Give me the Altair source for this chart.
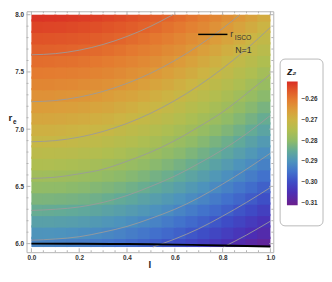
import altair as alt
import pandas as pd

# ---------------- data ----------------
l_centers = [0.025, 0.075, 0.125, 0.175, 0.225, 0.275, 0.325, 0.375, 0.425, 0.475,
             0.525, 0.575, 0.625, 0.675, 0.725, 0.775, 0.825, 0.875, 0.925, 0.975]
r_rows = [6.0, 6.1, 6.2, 6.3, 6.4, 6.5, 6.6, 6.7, 6.8, 6.9, 7.0,
          7.1, 7.2, 7.3, 7.4, 7.5, 7.6, 7.7, 7.8, 7.9, 8.0]

z_600 = [-0.2923, -0.2924, -0.2927, -0.2930, -0.2934, -0.2940, -0.2946, -0.2953, -0.2960, -0.2969, -0.2978, -0.2989, -0.3000, -0.3012, -0.3024, -0.3036, -0.3049, -0.3063, -0.3076, -0.3090]
z_610 = [-0.2897, -0.2898, -0.2900, -0.2903, -0.2907, -0.2912, -0.2918, -0.2925, -0.2934, -0.2943, -0.2952, -0.2962, -0.2973, -0.2985, -0.2998, -0.3011, -0.3025, -0.3038, -0.3052, -0.3066]
z_620 = [-0.2871, -0.2872, -0.2874, -0.2877, -0.2881, -0.2887, -0.2893, -0.2899, -0.2907, -0.2916, -0.2925, -0.2937, -0.2948, -0.2960, -0.2972, -0.2985, -0.3000, -0.3014, -0.3029, -0.3043]
z_630 = [-0.2845, -0.2846, -0.2848, -0.2851, -0.2855, -0.2860, -0.2867, -0.2874, -0.2882, -0.2891, -0.2901, -0.2911, -0.2922, -0.2935, -0.2948, -0.2961, -0.2974, -0.2989, -0.3004, -0.3020]
z_640 = [-0.2820, -0.2821, -0.2823, -0.2826, -0.2830, -0.2835, -0.2842, -0.2849, -0.2857, -0.2867, -0.2877, -0.2887, -0.2898, -0.2910, -0.2922, -0.2937, -0.2951, -0.2965, -0.2980, -0.2996]
z_650 = [-0.2796, -0.2797, -0.2799, -0.2803, -0.2807, -0.2812, -0.2818, -0.2825, -0.2833, -0.2842, -0.2852, -0.2862, -0.2874, -0.2887, -0.2899, -0.2913, -0.2927, -0.2942, -0.2957, -0.2972]
z_660 = [-0.2773, -0.2774, -0.2776, -0.2779, -0.2783, -0.2788, -0.2795, -0.2802, -0.2810, -0.2819, -0.2829, -0.2839, -0.2851, -0.2863, -0.2876, -0.2890, -0.2904, -0.2918, -0.2934, -0.2950]
z_670 = [-0.2751, -0.2752, -0.2754, -0.2757, -0.2761, -0.2766, -0.2772, -0.2779, -0.2787, -0.2796, -0.2806, -0.2817, -0.2828, -0.2840, -0.2853, -0.2868, -0.2882, -0.2897, -0.2911, -0.2927]
z_680 = [-0.2730, -0.2731, -0.2733, -0.2736, -0.2740, -0.2745, -0.2751, -0.2758, -0.2766, -0.2774, -0.2784, -0.2795, -0.2806, -0.2819, -0.2831, -0.2845, -0.2859, -0.2875, -0.2890, -0.2906]
z_690 = [-0.2709, -0.2710, -0.2712, -0.2715, -0.2720, -0.2725, -0.2731, -0.2738, -0.2745, -0.2754, -0.2763, -0.2774, -0.2785, -0.2797, -0.2810, -0.2824, -0.2838, -0.2853, -0.2869, -0.2885]
z_700 = [-0.2690, -0.2691, -0.2693, -0.2696, -0.2700, -0.2704, -0.2710, -0.2718, -0.2726, -0.2734, -0.2744, -0.2754, -0.2765, -0.2776, -0.2789, -0.2803, -0.2817, -0.2832, -0.2848, -0.2864]
z_710 = [-0.2670, -0.2671, -0.2673, -0.2676, -0.2680, -0.2685, -0.2691, -0.2698, -0.2705, -0.2714, -0.2724, -0.2734, -0.2745, -0.2757, -0.2769, -0.2782, -0.2797, -0.2812, -0.2828, -0.2844]
z_720 = [-0.2651, -0.2652, -0.2654, -0.2657, -0.2661, -0.2665, -0.2671, -0.2678, -0.2686, -0.2695, -0.2704, -0.2715, -0.2726, -0.2738, -0.2750, -0.2763, -0.2776, -0.2792, -0.2808, -0.2824]
z_730 = [-0.2633, -0.2634, -0.2636, -0.2638, -0.2641, -0.2646, -0.2652, -0.2659, -0.2666, -0.2675, -0.2685, -0.2696, -0.2707, -0.2720, -0.2732, -0.2745, -0.2759, -0.2773, -0.2788, -0.2804]
z_740 = [-0.2616, -0.2617, -0.2619, -0.2621, -0.2625, -0.2629, -0.2634, -0.2640, -0.2647, -0.2656, -0.2665, -0.2676, -0.2688, -0.2700, -0.2714, -0.2727, -0.2741, -0.2755, -0.2770, -0.2786]
z_750 = [-0.2600, -0.2601, -0.2603, -0.2605, -0.2608, -0.2612, -0.2617, -0.2623, -0.2630, -0.2637, -0.2646, -0.2657, -0.2668, -0.2681, -0.2695, -0.2709, -0.2723, -0.2738, -0.2752, -0.2768]
z_760 = [-0.2583, -0.2584, -0.2586, -0.2588, -0.2592, -0.2596, -0.2601, -0.2607, -0.2613, -0.2621, -0.2629, -0.2638, -0.2649, -0.2662, -0.2676, -0.2690, -0.2705, -0.2720, -0.2735, -0.2751]
z_770 = [-0.2567, -0.2568, -0.2570, -0.2572, -0.2575, -0.2579, -0.2584, -0.2590, -0.2597, -0.2604, -0.2612, -0.2622, -0.2631, -0.2642, -0.2656, -0.2670, -0.2686, -0.2702, -0.2719, -0.2734]
z_780 = [-0.2551, -0.2552, -0.2554, -0.2556, -0.2559, -0.2563, -0.2568, -0.2573, -0.2580, -0.2588, -0.2596, -0.2605, -0.2615, -0.2626, -0.2637, -0.2651, -0.2666, -0.2683, -0.2700, -0.2718]
z_790 = [-0.2536, -0.2537, -0.2538, -0.2541, -0.2544, -0.2547, -0.2552, -0.2557, -0.2564, -0.2571, -0.2579, -0.2589, -0.2598, -0.2609, -0.2620, -0.2633, -0.2647, -0.2664, -0.2681, -0.2699]
z_800 = [-0.2520, -0.2521, -0.2522, -0.2525, -0.2528, -0.2532, -0.2537, -0.2542, -0.2548, -0.2555, -0.2563, -0.2572, -0.2582, -0.2593, -0.2604, -0.2616, -0.2630, -0.2644, -0.2661, -0.2680]
z_rows = [z_600, z_610, z_620, z_630, z_640, z_650, z_660, z_670, z_680, z_690, z_700,
          z_710, z_720, z_730, z_740, z_750, z_760, z_770, z_780, z_790, z_800]

# contour lines (grey)
c1_l = [0.0, 0.1, 0.2, 0.3, 0.4, 0.5, 0.592]
c1_r = [7.65, 7.66, 7.69, 7.74, 7.81, 7.90, 8.0]
c2_l = [0.0, 0.1, 0.2, 0.3, 0.4, 0.5, 0.6, 0.7, 0.8, 0.872]
c2_r = [7.24, 7.25, 7.28, 7.33, 7.40, 7.49, 7.60, 7.73, 7.88, 8.0]
c_full_l = [0.0, 0.1, 0.2, 0.3, 0.4, 0.5, 0.6, 0.7, 0.8, 0.9, 1.0]
c3_r = [6.89, 6.90, 6.93, 6.98, 7.05, 7.14, 7.25, 7.38, 7.53, 7.70, 7.89]
c4_r = [6.57, 6.58, 6.61, 6.65, 6.72, 6.80, 6.90, 7.02, 7.15, 7.31, 7.48]
c5_r = [6.29, 6.30, 6.32, 6.36, 6.42, 6.50, 6.59, 6.70, 6.82, 6.96, 7.12]
c6_r = [6.03, 6.04, 6.06, 6.10, 6.15, 6.22, 6.30, 6.40, 6.52, 6.65, 6.79]
c7_l = [0.508, 0.6, 0.7, 0.8, 0.9, 1.0]
c7_r = [5.97, 6.04, 6.13, 6.24, 6.36, 6.49]
c8_l = [0.803, 0.9, 1.0]
c8_r = [5.97, 6.075, 6.196]

# r_ISCO curve (black)
isco_l = [0.0, 0.2, 0.4, 0.6, 0.8, 1.0]
isco_r = [6.0, 5.999, 5.996, 5.991, 5.984, 5.975]

# ticks
l_major = [0.0, 0.2, 0.4, 0.6, 0.8, 1.0]
l_minor = [0.05, 0.1, 0.15, 0.25, 0.3, 0.35, 0.45, 0.5, 0.55, 0.65, 0.7, 0.75, 0.85, 0.9, 0.95]
r_major = [6.0, 6.5, 7.0, 7.5, 8.0]
r_minor = [6.1, 6.2, 6.3, 6.4, 6.6, 6.7, 6.8, 6.9, 7.1, 7.2, 7.3, 7.4, 7.6, 7.7, 7.8, 7.9]
z_ticks = [-0.31, -0.30, -0.29, -0.28, -0.27, -0.26]

# colour ramp (Mathematica "Rainbow"-like)
c_dom = [-0.3113, -0.305, -0.300, -0.295, -0.290, -0.285, -0.280, -0.275, -0.270, -0.265, -0.260, -0.255, -0.2513]
c_rng = ["#6c1f8c", "#4b2fb5", "#3e4cc6", "#4272cc", "#4d93bd", "#62aa98", "#8fbb68",
         "#b0be50", "#cbb544", "#dc9c3a", "#e47b30", "#e05228", "#d92d24"]

# ---------------- frames ----------------
heat_rows = []
for r, zs in zip(r_rows, z_rows):
    for l, z in zip(l_centers, zs):
        heat_rows.append({"l0": max(l - 0.03, 0.0), "l1": min(l + 0.03, 1.0),
                          "r0": max(r - 0.06, 5.97), "r1": min(r + 0.06, 8.0), "z": z})
heat_df = pd.DataFrame(heat_rows)

cont = []
for name, ls, rs in [("c1", c1_l, c1_r), ("c2", c2_l, c2_r), ("c3", c_full_l, c3_r),
                     ("c4", c_full_l, c4_r), ("c5", c_full_l, c5_r), ("c6", c_full_l, c6_r),
                     ("c7", c7_l, c7_r), ("c8", c8_l, c8_r)]:
    for l, r in zip(ls, rs):
        cont.append({"c": name, "l": l, "r": r})
cont_df = pd.DataFrame(cont)
isco_df = pd.DataFrame({"l": isco_l, "r": isco_r})

W, H = 253, 247
GREY = "#b2b2b2"
FONT = "Liberation Sans"
xs = alt.Scale(domain=[-0.0204, 1.012], nice=False, zero=False)
ys = alt.Scale(domain=[5.925, 8.03], nice=False, zero=False)

x_axis = alt.Axis(values=l_major, format=".1f", title=None, ticks=False, domain=False, grid=False,
                  labelPadding=3, labelFontSize=6.5, labelFontWeight="bold", labelColor="#333",
                  labelFont=FONT, labelFlush=False, labelOverlap=False)
y_axis = alt.Axis(values=r_major, format=".1f", title=None, ticks=False, domain=False, grid=False,
                  labelPadding=3, labelFontSize=6.5, labelFontWeight="bold", labelColor="#333",
                  labelFont=FONT, labelFlush=False, labelOverlap=False)

legend = alt.Legend(orient="none", legendX=267, legendY=56, direction="vertical",
                    title="z₂", titleFontSize=11, titleFontStyle="italic", titleFontWeight="bold",
                    titleColor="#222", titleFont=FONT, titlePadding=5,
                    gradientLength=127, gradientThickness=11, gradientStrokeWidth=0,
                    values=z_ticks, format=".2f", labelFontSize=6.5, labelFontWeight="bold",
                    labelColor="#333", labelOffset=4, labelFont=FONT, padding=0)

one = pd.DataFrame({"a": [0]})

box = alt.Chart(one).mark_rect(cornerRadius=5, fill="white", stroke="#b8b8b8", strokeWidth=1).encode(
    x=alt.value(260), x2=alt.value(304), y=alt.value(49), y2=alt.value(220))

heat = alt.Chart(heat_df).mark_rect(strokeWidth=0, opacity=1).encode(
    x=alt.X("l0:Q", scale=xs, axis=x_axis),
    x2="l1:Q",
    y=alt.Y("r0:Q", scale=ys, axis=y_axis),
    y2="r1:Q",
    color=alt.Color("z:Q", scale=alt.Scale(domain=c_dom, range=c_rng, interpolate="rgb"), legend=legend),
)

contours = alt.Chart(cont_df).mark_line(color="#9a9a9a", strokeWidth=1, opacity=0.9,
                                         interpolate="monotone", clip=True).encode(
    x=alt.X("l:Q", scale=xs, axis=x_axis), y=alt.Y("r:Q", scale=ys, axis=y_axis), detail="c:N")

isco = alt.Chart(isco_df).mark_line(color="black", strokeWidth=2, interpolate="monotone").encode(
    x=alt.X("l:Q", scale=xs, axis=x_axis), y=alt.Y("r:Q", scale=ys, axis=y_axis))

xmaj = pd.DataFrame({"v": l_major})
xmin = pd.DataFrame({"v": l_minor})
ymaj = pd.DataFrame({"v": r_major})
ymin = pd.DataFrame({"v": r_minor})

def xt(df, y0, y1):
    return alt.Chart(df).mark_rule(color=GREY, strokeWidth=1).encode(
        x=alt.X("v:Q", scale=xs, axis=x_axis), y=alt.value(y0), y2=alt.value(y1))

def yt(df, x0, x1):
    return alt.Chart(df).mark_rule(color=GREY, strokeWidth=1).encode(
        y=alt.Y("v:Q", scale=ys, axis=y_axis), x=alt.value(x0), x2=alt.value(x1))

ticks = [xt(xmaj, H, H - 4), xt(xmin, H, H - 2), xt(xmaj, 0, 4), xt(xmin, 0, 2),
         yt(ymaj, 0, 4), yt(ymin, 0, 2), yt(ymaj, W, W - 4), yt(ymin, W, W - 2)]

def txt(s, x, y, size, weight="normal", color="#333", style="normal"):
    return alt.Chart(one).mark_text(text=s, font=FONT, fontSize=size, fontWeight=weight, fontStyle=style,
                                    color=color, align="left", baseline="alphabetic").encode(
        x=alt.value(x), y=alt.value(y))

key_line = alt.Chart(one).mark_rule(color="black", strokeWidth=1.5).encode(
    x=alt.value(176), x2=alt.value(206), y=alt.value(23.7))

labels = [
    key_line,
    txt("r", 209, 26.5, 9),
    txt("ISCO", 213.5, 29, 7),
    txt("N=1", 214, 42.5, 9),
    txt("r", -18.5, 113, 10, "bold", "#222"),
    txt("e", -14, 116, 6.5, "bold", "#222"),
    txt("l", 125, 263, 10, "bold", "#222"),
]

chart = alt.layer(box, heat, contours, isco, *ticks, *labels).properties(
    width=W, height=H,
    padding={"left": 19, "top": 0, "right": 52, "bottom": 19},
    autosize=alt.AutoSizeParams(type="none"),
    background="white",
).configure_view(stroke=GREY, strokeWidth=1)

chart.save("out.html", embed_options={"renderer": "svg", "actions": False})
